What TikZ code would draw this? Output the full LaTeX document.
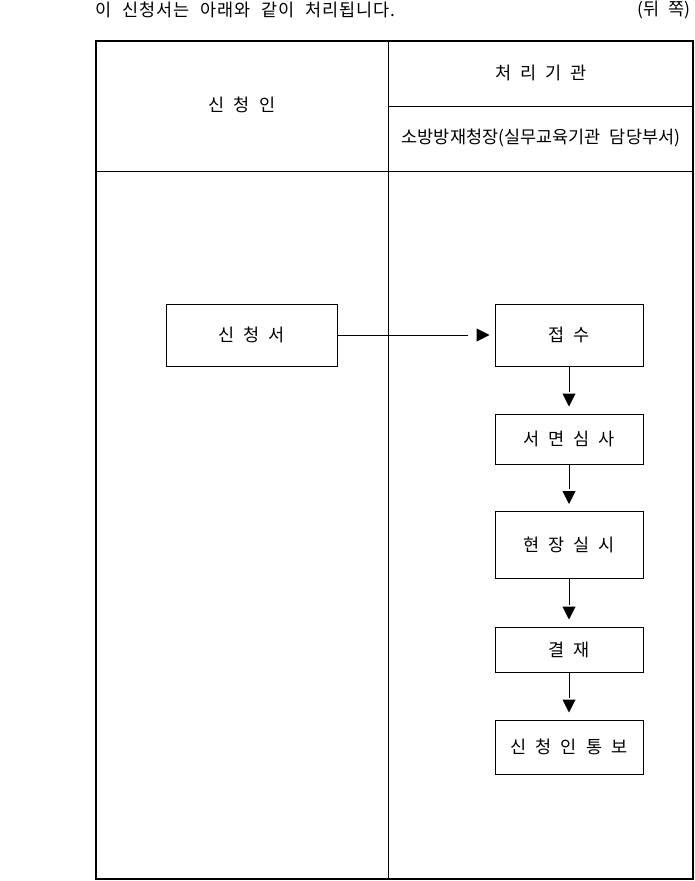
\documentclass[tikz,border=0pt]{standalone}
\usepackage{fontspec}
\setmainfont[WordSpace=2.3]{Noto Sans CJK KR}
\usetikzlibrary{arrows.meta,decorations.markings}
\tikzset{
    form label/.style={font=\fontsize{17.5}{17.5}\selectfont, inner sep=0pt},
    step box/.style={
        rectangle,
        draw,
        line width=1pt,
        inner sep=0pt,
        font=\fontsize{17.5}{17.5}\selectfont,
    },
    flow/.style 2 args={
        line width=1pt,
        shorten >=#2,
        postaction={decorate,decoration={markings,
            mark=at position -#1 with {\arrow{Triangle[length=13pt,width=13pt]}}}},
    },
}

\begin{document}
\begin{tikzpicture}[x=1pt,y=-1pt]
\useasboundingbox (0,0) rectangle (695,881);

% heading line
\node[form label,anchor=west] (intro) at (95,10) {\addfontfeature{LetterSpace=5}이 신청서는 아래와 같이 처리됩니다.};
\node[form label,anchor=east] (side) at (691,10) {(뒤 쪽)};

% table frame
\draw[line width=2pt] (96,41) rectangle (693,879);
\draw[line width=1pt] (388,41) -- (388,879);
\draw[line width=1pt] (96,171) -- (693,171);
\draw[line width=1pt] (388,106) -- (693,106);

\node[form label] (applicant) at (242,105) {신 청 인};
\node[form label] (office) at (541,73) {처 리 기 관};
\node[form label] (dept) at (541,138) {소방방재청장(실무교육기관 담당부서)};

% process steps
\node[step box,minimum width=171pt,minimum height=62pt] (apply) at (251.5,335) {신 청 서};
\node[step box,minimum width=148pt,minimum height=62pt] (receive) at (569,335) {접 수};
\node[step box,minimum width=148pt,minimum height=50pt] (review) at (569,439) {서 면 심 사};
\node[step box,minimum width=148pt,minimum height=67pt] (site) at (569,545) {현 장 실 시};
\node[step box,minimum width=148pt,minimum height=45pt] (approve) at (569,649.5) {결 재};
\node[step box,minimum width=148pt,minimum height=54pt] (notify) at (569,747) {신 청 인 통 보};

\draw[flow={5pt}{27pt}] (apply) -- (receive);
\draw[flow={7pt}{22pt}] (receive) -- (review);
\draw[flow={7pt}{22pt}] (review) -- (site);
\draw[flow={7pt}{22pt}] (site) -- (approve);
\draw[flow={7pt}{22pt}] (approve) -- (notify);

\end{tikzpicture}
\end{document}
